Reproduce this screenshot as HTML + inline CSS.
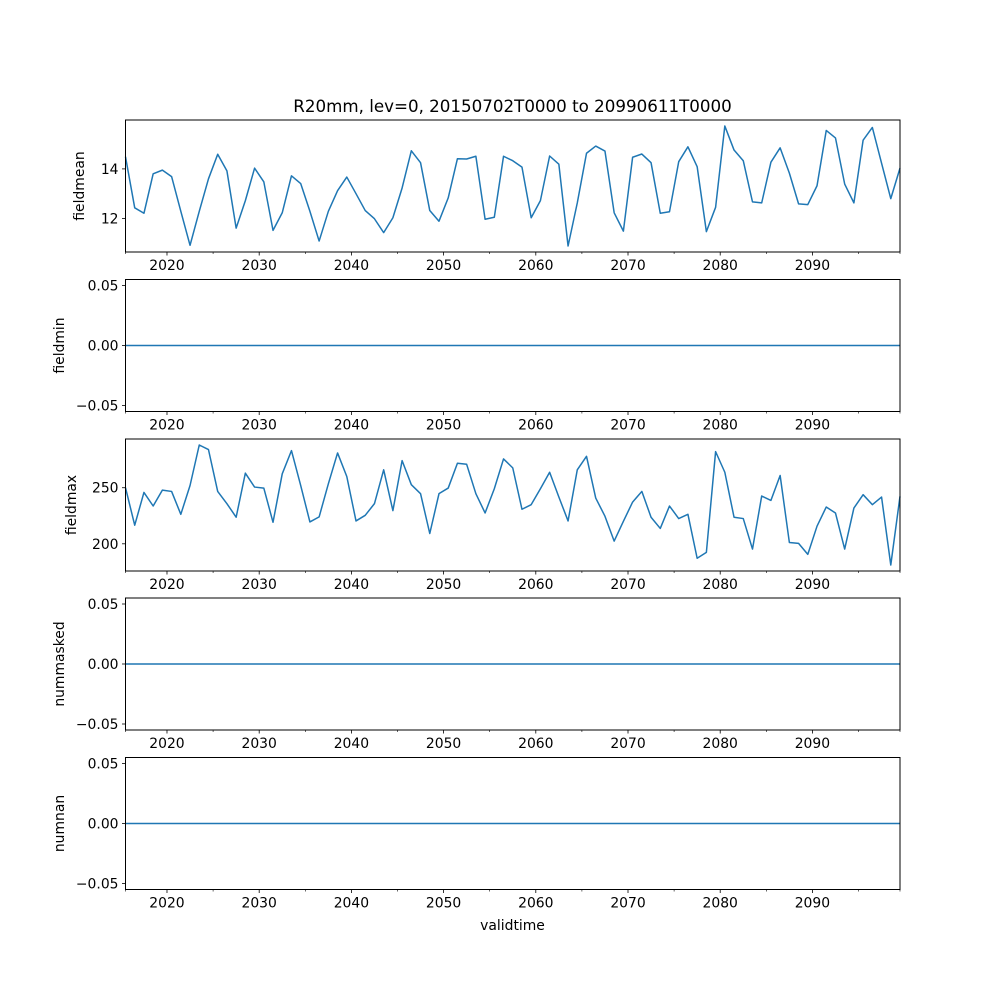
<!DOCTYPE html>
<html><head><meta charset="utf-8"><style>
html,body{margin:0;padding:0;background:#fff;}
svg{display:block;font-family:"DejaVu Sans","Liberation Sans",sans-serif;}
</style></head><body>
<svg id="fig" width="1000" height="1000" viewBox="0 0 1000 1000">
<rect width="1000" height="1000" fill="#fff"/>
<text x="512.5" y="112" font-size="16.7" text-anchor="middle">R20mm, lev=0, 20150702T0000 to 20990611T0000</text>
<text x="512.5" y="930" font-size="13.9" text-anchor="middle">validtime</text>
</svg>
<script>
const years = [];
for (let y = 2015; y <= 2099; y++) years.push(y);
const fieldmean = [14.49,12.43,12.21,13.80,13.95,13.69,12.29,10.92,12.29,13.60,14.59,13.92,11.61,12.72,14.03,13.48,11.52,12.23,13.72,13.41,12.29,11.09,12.29,13.12,13.67,13.00,12.32,11.99,11.43,12.03,13.23,14.73,14.25,12.32,11.89,12.83,14.41,14.40,14.51,11.97,12.05,14.51,14.33,14.07,12.03,12.72,14.52,14.19,10.89,12.63,14.63,14.92,14.72,12.23,11.49,14.47,14.60,14.25,12.21,12.27,14.29,14.89,14.09,11.47,12.45,15.73,14.76,14.33,12.67,12.63,14.27,14.85,13.83,12.59,12.56,13.32,15.55,15.25,13.39,12.63,15.16,15.67,14.23,12.80,14.03];
const fieldmax = [250,216.6,245.8,233.7,247.9,246.7,226.3,252,288.1,284,246.7,235.8,223.7,263,250.6,249.7,219.2,262.4,283.1,252,219.5,224,253.5,281,260,220.4,225.4,235.8,266,229.6,274.2,252.7,244.7,209.2,244.7,249.7,271.8,270.9,244.7,227.5,249.1,275.7,267.7,230.8,234.9,249.1,263.8,241.7,220.4,266,278,240.8,224.6,202.4,220.1,237.2,246.7,223.7,213.7,233.7,222.5,226.3,187.1,192.4,282.2,263.8,223.7,222.5,195.3,242.6,238.7,260.9,201.2,200.4,190.6,215.7,232.8,227.5,195.3,231.9,243.8,234.9,241.7,181.1,242.3];
const fieldmin = years.map(() => 0);
const nummasked = years.map(() => 0);
const numnan = years.map(() => 0);
const xTickYears = [2020,2030,2040,2050,2060,2070,2080,2090];
const xMinorYears = [2025,2035,2045,2055,2065,2075,2085,2095];

const NS = "http://www.w3.org/2000/svg";
const svg = document.getElementById('fig');
const L = 125.5, R = 900;
function xOfIndex(i){ return L + i*(R-L)/(years.length-1); }
function xOfYear(y){ return L + (y-2015.5)*(R-L)/(years.length-1); }
function mk(tag, attrs, parent){
  const e = document.createElementNS(NS, tag);
  for (const k in attrs) e.setAttribute(k, attrs[k]);
  (parent||svg).appendChild(e); return e;
}
function fmt(v, dec){ const s = Math.abs(v).toFixed(dec); return (v < 0 ? "\u2212" : "") + s; }

const panels = [
  {name:'fieldmean', data:fieldmean, top:120, ticks:[12,14], dec:0, zero:false, lx:84},
  {name:'fieldmin', data:fieldmin, top:279.5, ticks:[-0.05,0,0.05], dec:2, zero:true, lx:64},
  {name:'fieldmax', data:fieldmax, top:439, ticks:[200,250], dec:0, zero:false, lx:76},
  {name:'nummasked', data:nummasked, top:598, ticks:[-0.05,0,0.05], dec:2, zero:true, lx:64},
  {name:'numnan', data:numnan, top:757.5, ticks:[-0.05,0,0.05], dec:2, zero:true, lx:64}
];
const H = 132;
panels.forEach(p => {
  const g = mk('g', {});
  
  
  let lo, hi;
  if (p.zero) { lo = -0.055; hi = 0.055; }
  else {
    const mn = Math.min(...p.data), mx = Math.max(...p.data), m = (mx-mn)*0.05;
    lo = mn - m; hi = mx + m;
  }
  const yOf = v => p.top + H - (v-lo)/(hi-lo)*H;
  const pts = p.data.map((v,i) => xOfIndex(i).toFixed(2)+','+yOf(v).toFixed(2)).join(' ');
  const line = mk('polyline', {points:pts, fill:'none', stroke:'#1f77b4', 'stroke-width':1.5, 'stroke-linejoin':'round'}, g);
  
  
  const frame = mk('rect', {x:L, y:p.top, width:R-L, height:H, fill:'none', stroke:'#000', 'stroke-width':1}, g);
  
  
  p.ticks.forEach(t => {
    const y = yOf(t);
    mk('line', {x1:L-3.5, x2:L, y1:y, y2:y, stroke:'#000', 'stroke-width':0.8}, g);
    const tx = mk('text', {x:L-7, y:y+5, 'font-size':13.9, 'text-anchor':'end'}, g);
    tx.textContent = fmt(t, p.dec);
    
    
  });
  const yl = mk('text', {x:0, y:0, 'font-size':13.9, 'text-anchor':'middle', transform:'translate('+p.lx+','+(p.top+H/2)+') rotate(-90)'}, g);
  yl.textContent = p.name;
  
  
  const b = p.top + H;
  xTickYears.forEach(yr => {
    const x = xOfYear(yr);
    mk('line', {x1:x, x2:x, y1:b, y2:b+3.5, stroke:'#000', 'stroke-width':0.8}, g);
    const tx = mk('text', {x:x, y:b+18, 'font-size':13.9, 'text-anchor':'middle'}, g);
    tx.textContent = yr;
    
    
  });
  xMinorYears.concat([2015.5, 2099.5]).forEach(yr => {
    const x = Math.min(R, Math.max(L, xOfYear(yr)));
    mk('line', {x1:x, x2:x, y1:b, y2:b+2, stroke:'#000', 'stroke-width':0.6}, g);
  });
});
</script>
</body></html>
